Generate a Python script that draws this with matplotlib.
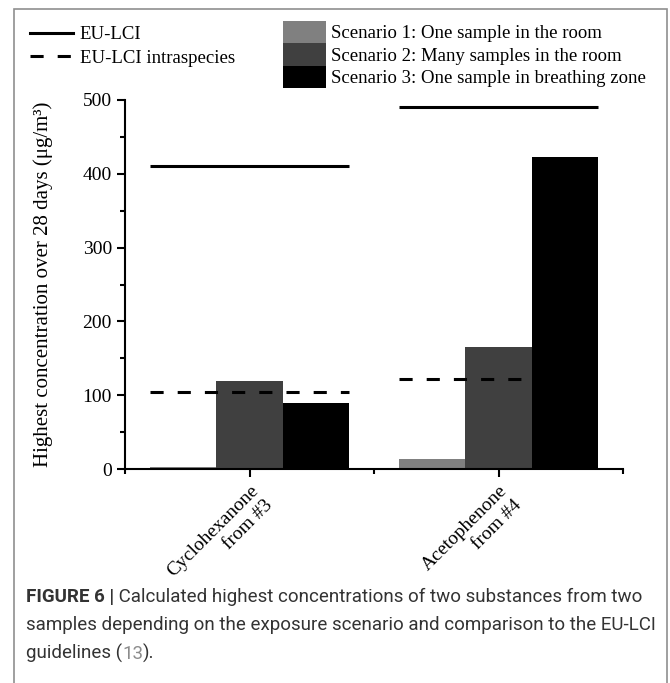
import numpy as np
import matplotlib
matplotlib.use("Agg")
import matplotlib.pyplot as plt
import matplotlib.patches as mpatches
from matplotlib.lines import Line2D
from matplotlib.ticker import MultipleLocator, FixedLocator
from matplotlib.transforms import ScaledTranslation

plt.rcParams.update({
    "font.family": ["Liberation Serif", "DejaVu Serif"],
    "font.size": 14,
    "axes.linewidth": 1.5,
    "xtick.major.width": 1.5, "ytick.major.width": 1.5,
    "xtick.minor.width": 1.5, "ytick.minor.width": 1.5,
    "xtick.major.size": 6, "ytick.major.size": 6,
    "xtick.minor.size": 3.5, "ytick.minor.size": 3.5,
})

# highest concentration over 28 days, ug/m3
substances = ["Cyclohexanone\nfrom #3", "Acetophenone\nfrom #4"]
scenarios = ["Scenario 1: One sample in the room",
             "Scenario 2: Many samples in the room",
             "Scenario 3: One sample in breathing zone"]
scenario1 = [2.5, 14]
scenario2 = [119, 165]
scenario3 = [89, 423]
eu_lci = [410, 490]
eu_lci_intra = [104, 122]

GREYS = ["#808080", "#404040", "#000000"]

fig = plt.figure(figsize=(6.70, 6.83), dpi=100)
ax = fig.add_axes([0.1866, 0.3133, 0.7433, 0.5403])

x = np.arange(len(substances))
w = 0.266
for k, vals in enumerate([scenario1, scenario2, scenario3]):
    ax.bar(x + (k - 1) * w, vals, width=w, color=GREYS[k], linewidth=0, zorder=2)

# guideline values drawn across each group; the intraspecies line for
# acetophenone only runs over the first two bars
intra_end = [1.5, 0.5]
for i in range(len(substances)):
    ax.hlines(eu_lci[i], x[i] - 1.5 * w, x[i] + 1.5 * w, colors="black",
              linewidth=2.2, zorder=3)
    ax.plot([x[i] - 1.5 * w, x[i] + intra_end[i] * w], [eu_lci_intra[i]] * 2,
            color="black", linewidth=2.2, dashes=(4.3, 4.6), zorder=3)

ax.set_xlim(-0.5, 1.5)
ax.set_ylim(0, 500)
ax.yaxis.set_major_locator(MultipleLocator(100))
ax.yaxis.set_minor_locator(MultipleLocator(50))
ax.set_xticks(x)
ax.xaxis.set_minor_locator(FixedLocator([-0.5, 0.5, 1.5]))
ax.set_xticklabels(substances, rotation=45, ha="right", va="top",
                   rotation_mode="anchor", multialignment="right",
                   linespacing=1.3)
for lab in ax.get_xticklabels():
    lab.set_transform(lab.get_transform() +
                      ScaledTranslation(0.36, -0.02, fig.dpi_scale_trans))
ax.spines["top"].set_visible(False)
ax.spines["right"].set_visible(False)
ax.tick_params(which="both", direction="out")
ax.set_ylabel("Highest concentration over 28 days (\u03bcg/m\u00b3)",
              fontsize=15, labelpad=21)

# legends sit above the axes, in the figure margin
line_handles = [Line2D([], [], color="black", lw=2.2),
                Line2D([], [], color="black", lw=2.2, dashes=(4.3, 4.6))]
fig.legend(line_handles, ["EU-LCI", "EU-LCI intraspecies"],
           loc="upper left", bbox_to_anchor=(30 / 670, 1 - 26 / 683),
           frameon=False, fontsize=13.5, handlelength=2.3, handletextpad=0.35,
           labelspacing=0.36, borderaxespad=0, borderpad=0)
patch_handles = [mpatches.Patch(color=c, linewidth=0) for c in GREYS]
fig.legend(patch_handles, scenarios,
           loc="upper left", bbox_to_anchor=(283 / 670, 1 - 21 / 683),
           frameon=False, fontsize=13.5, handlelength=2.3, handleheight=1.45,
           handletextpad=0.25, labelspacing=0.0, borderaxespad=0, borderpad=0)

# caption block
cap = dict(family=["Roboto", "DejaVu Sans"], fontsize=13.5, color="#333333")
t = fig.text(26 / 670, 1 - 597 / 683, "FIGURE 6 |", weight="bold", va="center",
             transform=fig.transFigure, **cap)
ax.annotate(" Calculated highest concentrations of two substances from two",
            xy=(1, 0), xycoords=t, va="bottom", ha="left", **cap)
fig.text(26 / 670, 1 - 625 / 683,
         "samples depending on the exposure scenario and comparison to the EU-LCI",
         va="center", transform=fig.transFigure, **cap)
t3 = fig.text(26 / 670, 1 - 653 / 683, "guidelines (", va="center",
              transform=fig.transFigure, **cap)
t4 = ax.annotate("13", xy=(1, 0), xycoords=t3, va="bottom", ha="left",
                 **{**cap, "color": "#8c8c8c"})
ax.annotate(").", xy=(1, 0), xycoords=t4, va="bottom", ha="left", **cap)

fig.add_artist(mpatches.Rectangle((14 / 670, -0.02), 653 / 670, 1.02 - 9 / 683,
                                  transform=fig.transFigure, fill=False,
                                  edgecolor="#8f8f8f", linewidth=1.2))

fig.savefig("out.png", dpi=100)
